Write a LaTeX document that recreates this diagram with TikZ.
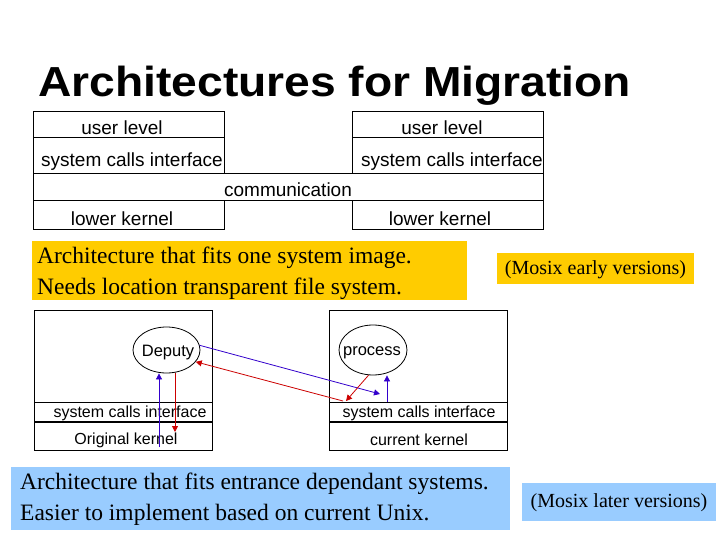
\documentclass[tikz,border=0pt]{standalone}
\usepackage{fontspec}
\setmainfont{Liberation Serif}
\setsansfont{Liberation Sans}
\usetikzlibrary{shapes.geometric,arrows.meta}
\definecolor{ylw}{RGB}{255,204,0}
\definecolor{lblue}{RGB}{153,204,255}
\definecolor{arrblue}{RGB}{51,0,204}
\definecolor{arrred}{RGB}{204,0,0}
\tikzset{
  cell/.style={draw,line width=1pt,inner sep=0pt,outer sep=0pt},
  toplbl/.style={font=\sffamily\fontsize{19}{21}\selectfont,inner sep=0pt},
  botlbl/.style={font=\sffamily\fontsize{16}{18}\selectfont,inner sep=0pt},
  oval/.style={draw,ellipse,line width=0.8pt,inner sep=0pt},
  ovallbl/.style={font=\sffamily\fontsize{16.5}{18}\selectfont,inner sep=0pt},
  note/.style={font=\fontsize{23.5}{31}\selectfont,align=left,inner sep=0pt,anchor=north west},
  mosix/.style={font=\fontsize{20}{22}\selectfont,inner sep=0pt},
  bluearr/.style={draw=arrblue,line width=0.8pt,-{Triangle[length=6pt,width=6pt]},arrblue},
  redarr/.style={draw=arrred,line width=0.8pt,-{Triangle[length=6pt,width=6pt]},arrred},
}
\begin{document}
\begin{tikzpicture}[x=1pt,y=-1pt]
\useasboundingbox (0,0) rectangle (720,540);
\fill[white] (0,0) rectangle (720,540);

% title
\node[font=\sffamily\bfseries\fontsize{42}{46}\selectfont,xscale=1.1,inner sep=0pt,anchor=base west] (title) at (38,97) {Architectures for Migration};

% top diagram
\node[cell,minimum width=191pt,minimum height=26pt] (luser) at (128.5,125) {};
\node[cell,minimum width=191pt,minimum height=36pt] (lsci) at (128.5,156) {};
\node[cell,minimum width=510pt,minimum height=27pt] (comm) at (288,187.5) {};
\node[cell,minimum width=191pt,minimum height=29pt] (lker) at (128.5,215.5) {};
\node[cell,minimum width=191pt,minimum height=26pt] (ruser) at (447.5,125) {};
\node[cell,minimum width=191pt,minimum height=36pt] (rsci) at (447.5,156) {};
\node[cell,minimum width=191pt,minimum height=29pt] (rker) at (447.5,215.5) {};

\node[toplbl] (tl1) at (122,128) {user level};
\node[toplbl] (tl2) at (132,162) {system calls interface};
\node[toplbl] (tl3) at (288,190) {communication};
\node[toplbl] (tl4) at (122,219) {lower kernel};
\node[toplbl] (tr1) at (442,128) {user level};
\node[toplbl] (tr2) at (452,162) {system calls interface};
\node[toplbl] (tr4) at (440,219) {lower kernel};

% yellow notes
\fill[ylw] (32,241) rectangle (467,300);
\node[note] (ynote) at (37,247) {Architecture that fits one system image.\\Needs location transparent file system.};
\fill[ylw] (497,253) rectangle (694,284);
\node[mosix] (early) at (595.5,270) {(Mosix early versions)};

% bottom diagram
\node[cell,minimum width=178pt,minimum height=92pt] (bl) at (123,356) {};
\node[cell,minimum width=178pt,minimum height=20pt] (blsci) at (123,412) {};
\node[cell,minimum width=178pt,minimum height=28pt] (blker) at (123,436) {};
\draw[line width=2pt] (blsci.south west) -- (blsci.south east);
\node[cell,minimum width=178pt,minimum height=92pt] (br) at (418,356) {};
\node[cell,minimum width=178pt,minimum height=20pt] (brsci) at (418,412) {};
\node[cell,minimum width=178pt,minimum height=28pt] (brker) at (418,436) {};
\draw[line width=2pt] (brsci.south west) -- (brsci.south east);

\node[botlbl] (b1) at (130,413) {system calls interface};
\node[botlbl] (b2) at (126,440) {Original kernel};
\node[botlbl] (b3) at (419,413) {system calls interface};
\node[botlbl] (b4) at (419,440) {current kernel};

\node[oval,minimum width=67pt,minimum height=46pt] (dep) at (166.5,350) {};
\node[ovallbl] (deplbl) at (168,353) {Deputy};
\node[oval,minimum width=68pt,minimum height=50pt] (proc) at (373,350) {};
\node[ovallbl] (proclbl) at (372,353) {process};

\coordinate (c1) at (380,394);
\coordinate (c2) at (343,401);
\coordinate (c3) at (346,401);
\coordinate (c4) at (387,402);
\coordinate (c5) at (159,447);
\coordinate (c6) at (175,432);

\draw[bluearr] (dep.8) -- (c1);
\draw[redarr] (c2) -- (dep.-22);
\draw[redarr] (proc.-100) -- (c3);
\draw[bluearr] (c4) -- (c4 |- proc.south);
\draw[bluearr] (c5) -- (c5 |- dep.south);
\draw[redarr] (c6 |- dep.south) -- (c6);

% blue notes
\fill[lblue] (11,467) rectangle (510,530);
\node[note] (bnote) at (20,473) {Architecture that fits entrance dependant systems.\\Easier to implement based on current Unix.};
\fill[lblue] (522,483) rectangle (716,521);
\node[mosix] (later) at (619,503) {(Mosix later versions)};
\end{tikzpicture}
\end{document}
